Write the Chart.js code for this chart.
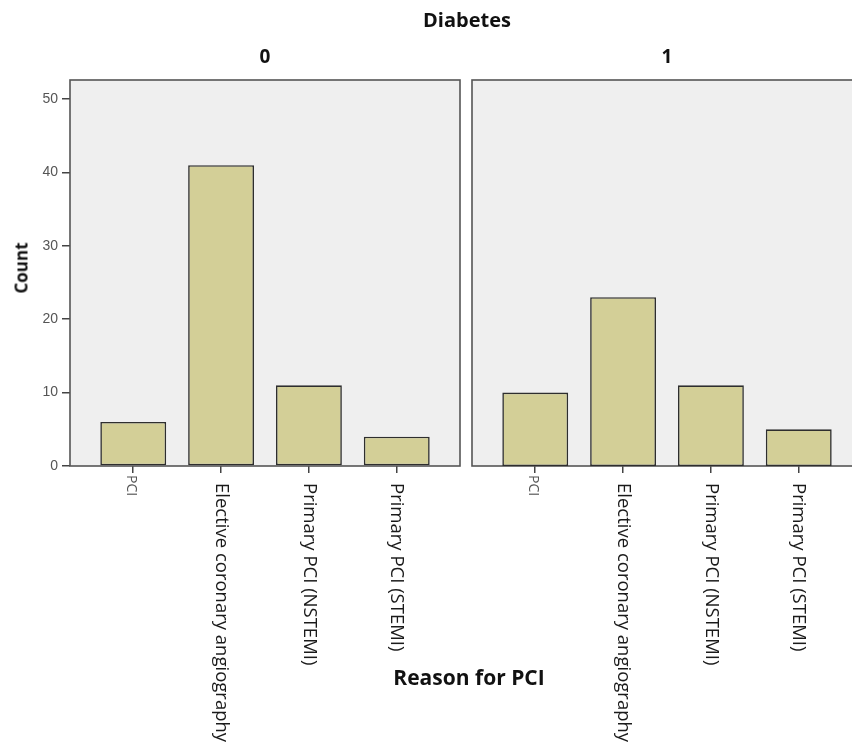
<!DOCTYPE html>
<html>
<head>
<meta charset="utf-8">
<script src="https://cdn.jsdelivr.net/npm/chart.js@4.4.1/dist/chart.umd.min.js"></script>
<style>
	html, body { margin: 0; padding: 0; background: #fff; overflow: hidden; }
	#wrap { position: relative; width: 852px; height: 745px; }
	canvas { position: absolute; top: 0; }
	.titulo { position: absolute; font-family: 'Open Sans', sans-serif; font-weight: bold; color: #111; white-space: nowrap; line-height: 1; }
</style>
</head>
<body>
<div id="wrap">
	<canvas id="panel-0" width="466" height="745" style="left:0"></canvas>
	<canvas id="panel-1" width="400" height="745" style="left:466px"></canvas>
	<div class="titulo" style="left:467px; top:10px; font-size:20px; transform:translateX(-50%)">Diabetes</div>
	<div class="titulo" style="left:265px; top:47px; font-size:19px; transform:translateX(-50%)">0</div>
	<div class="titulo" style="left:667px; top:47px; font-size:19px; transform:translateX(-50%)">1</div>
	<div class="titulo" style="left:21px; top:268px; font-size:17px; transform:translate(-50%,-50%) rotate(-90deg)">Count</div>
	<div class="titulo" style="left:469px; top:667px; font-size:21px; transform:translateX(-50%)">Reason for PCI</div>
</div>
<script>
	var reasons = ['PCI', 'Elective coronary angiography', 'Primary PCI (NSTEMI)', 'Primary PCI (STEMI)'];
	var diabetes0 = [6, 41, 11, 4];
	var diabetes1 = [10, 23, 11, 5];
	var yTicks = [0, 10, 20, 30, 40, 50];

	// fondo gris y marco del panel
	var panelPlugin = {
		id: 'panel',
		beforeDatasetsDraw: function (chart) {
			var a = chart.chartArea;
			var ctx = chart.ctx;
			ctx.save();
			ctx.fillStyle = '#efefef';
			ctx.fillRect(a.left, a.top, a.right - a.left, a.bottom - a.top);
			ctx.strokeStyle = '#555';
			ctx.lineWidth = 1.6;
			ctx.strokeRect(a.left, a.top, a.right - a.left, a.bottom - a.top);
			ctx.restore();
		}
	};

	// etiquetas del eje x giradas 90° (leen de arriba abajo)
	var etiquetasPlugin = {
		id: 'etiquetas',
		afterDraw: function (chart) {
			var ctx = chart.ctx;
			var x = chart.scales.x;
			var base = chart.chartArea.bottom;
			reasons.forEach(function (txt, i) {
				var px = x.getPixelForValue(i);
				var chico = i === 0;
				ctx.save();
				ctx.translate(px - (chico ? 2 : 0), base + (chico ? 9 : 17));
				ctx.rotate(Math.PI / 2);
				ctx.font = (chico ? '14px' : '18.5px') + " 'Open Sans', sans-serif";
				ctx.fillStyle = chico ? '#555' : '#1a1a1a';
				ctx.textAlign = 'left';
				ctx.textBaseline = 'middle';
				ctx.fillText(txt, 0, 0);
				ctx.restore();
			});
		}
	};

	function crearPanel(id, valores, conEjeY, padding) {
		return new Chart(document.getElementById(id), {
			type: 'bar',
			data: {
				datasets: [{
					data: valores.map(function (v, i) { return { x: i, y: v }; }),
					backgroundColor: '#d3cf97',
					borderColor: '#2e2e2e',
					borderWidth: 1.6,
					borderSkipped: false,
					categoryPercentage: 1,
					barPercentage: 0.75,
				}],
			},
			options: {
				responsive: false,
				animation: false,
				layout: { padding: padding },
				plugins: { legend: { display: false }, tooltip: { enabled: false } },
				scales: {
					x: {
						type: 'linear',
						offset: false,
						min: -0.72,
						max: 3.72,
						afterBuildTicks: function (scale) {
							scale.ticks = reasons.map(function (r, i) { return { value: i }; });
						},
						afterFit: function (scale) { scale.height = 279; },
						ticks: { display: false },
						grid: { offset: false, drawOnChartArea: false, drawTicks: true, tickLength: 7, color: '#444', lineWidth: 1.5 },
						border: { display: false },
					},
					y: {
						display: conEjeY,
						min: 0,
						max: 52.6,
						afterBuildTicks: function (scale) {
							scale.ticks = yTicks.map(function (v) { return { value: v }; });
						},
						afterFit: function (scale) { scale.width = conEjeY ? 70 : 0; },
						ticks: { color: '#555', padding: 4, font: { family: "'Liberation Sans', Arial, sans-serif", size: 14 } },
						grid: { drawOnChartArea: false, drawTicks: true, tickLength: 8, color: '#444', lineWidth: 1.5 },
						border: { display: false },
					},
				},
			},
			plugins: [panelPlugin, etiquetasPlugin],
		});
	}

	crearPanel('panel-0', diabetes0, true, { top: 80, right: 6, left: 0, bottom: 0 });
	crearPanel('panel-1', diabetes1, false, { top: 80, right: 4, left: 6, bottom: 0 });
</script>
</body>
</html>
